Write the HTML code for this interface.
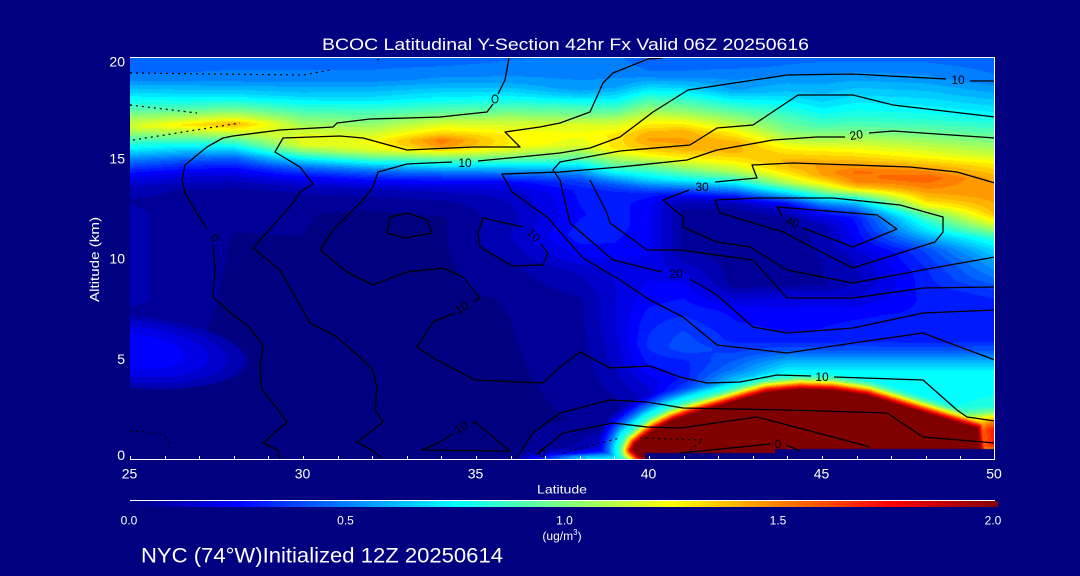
<!DOCTYPE html>
<html><head><meta charset="utf-8">
<style>
html,body{margin:0;padding:0;background:#000080;width:1080px;height:576px;overflow:hidden}
#c{position:absolute;left:130px;top:58px;width:865px;height:401px}
svg{position:absolute;left:0;top:0}
text{font-family:"Liberation Sans",sans-serif}
</style></head><body>
<canvas id="c" width="865" height="401"></canvas>
<svg width="1080" height="576" viewBox="0 0 1080 576">
<defs>
<linearGradient id="jet" x1="0" y1="0" x2="1" y2="0">
<stop offset="0" stop-color="#000080"/><stop offset="0.125" stop-color="#0000ff"/>
<stop offset="0.375" stop-color="#00ffff"/><stop offset="0.625" stop-color="#ffff00"/>
<stop offset="0.875" stop-color="#ff0000"/><stop offset="1" stop-color="#800000"/>
</linearGradient>
</defs>
<g fill="none" stroke="#000" stroke-width="1.3" stroke-linejoin="round">
<polyline points="509,58 505,80 498,94"/>
<ellipse cx="495" cy="99" rx="3" ry="4" stroke-width="1"/>
<polyline points="493,104 487,112 440,117 407,118 370,119 337,123 333,127 280,130 233,136 223,138 207,147 185,165 182,180 185,193 195,210 207,229"/>
<polyline points="213,245 215,270 213,297 233,315 247,325 263,345 260,367 262,390 273,403 287,422 263,443 278,450 280,459"/>
<polyline points="662,58 648,59 613,73 603,83 590,112 560,123 540,127 505,132 520,147 473,147 407,150 363,138 340,136 283,138 275,152 300,167 313,184 300,192 294,202 253,248 280,270 310,323 337,337 363,360 373,370 377,388 375,410 383,422 357,442 372,450 382,459"/>
<polyline points="995,81 970,81"/>
<polyline points="946,79 853,74 787,75 688,90 653,112 620,137 590,148 560,153 540,155 478,161"/>
<polyline points="452,162 407,164 378,172 373,187 363,200 353,210 333,230 320,250 347,272 373,285 407,272 443,268 463,277 480,298 474,301"/>
<polyline points="455,313 433,322 417,347 437,360 475,380 543,383 560,367 580,352 610,368 650,366 680,377 707,383 740,382 777,375 811,376"/>
<polyline points="834,377 923,380 957,410 967,417 995,421"/>
<polyline points="422,450 440,442 454,433"/>
<polyline points="472,423 475,422 510,451 422,450"/>
<polyline points="390,217 408,213 427,220 432,233 405,238 387,233 390,217"/>
<polyline points="523,227 483,218 478,233 480,247 512,266 543,265 548,253 541,244"/>
<polyline points="995,138 893,131 869,133"/>
<polyline points="845,137 817,137 773,140 717,150 687,160 620,167 560,172 502,174 512,192 547,217 583,258 620,280 650,300 683,317 717,345 787,353 853,343 923,333 960,347 995,360"/>
<polyline points="995,117 893,105 853,95 798,95 753,125 717,128 690,145 620,151 560,162 553,170 560,180 570,223 613,260 662,272"/>
<polyline points="690,279 717,295 753,327 787,333 853,328 923,313 995,310"/>
<polyline points="995,183 957,172 910,167 853,165 793,163 752,165 757,178 715,182"/>
<polyline points="689,190 663,200 683,217 683,227 717,242 750,247 787,270 853,283 933,268 995,257"/>
<polyline points="715,200 760,198 833,198 900,205 943,217 943,232 935,242 900,253 853,268 833,258 783,232 720,213 715,200"/>
<polyline points="782,216 777,207 877,215 897,229 853,247 803,228"/>
<polyline points="590,180 607,213 610,223 647,250 680,250 753,260 787,298 853,298 923,288 995,287"/>
<polyline points="515,459 520,453 533,433 560,413 610,400 647,402 683,408 787,410 887,413 923,437 995,443"/>
<polyline points="536,455 563,433 613,423 647,427 680,428 757,417 833,437 870,447"/>
<polyline points="680,453 771,444"/>
<polyline points="786,445 800,451"/>
</g>
<g fill="none" stroke="#000" stroke-width="1.2" stroke-dasharray="2,4">
<polyline points="130,73 303,75 330,70"/>
<polyline points="130,105 197,113"/>
<polyline points="133,140 240,123"/>
<polyline points="377,60 383,58"/>
<polyline points="130,431 147,432 163,435 170,443 167,452"/>
<polyline points="563,453 600,443 620,438"/>
<polyline points="640,438 703,440 690,450"/>
</g>
<g fill="#000" font-size="12">
<text x="958" y="84" text-anchor="middle">10</text>
<text x="465" y="167" text-anchor="middle">10</text>
<text x="0" y="0" text-anchor="middle" transform="translate(464,311) rotate(-35)">10</text>
<text x="822" y="381" text-anchor="middle">10</text>
<text x="0" y="0" text-anchor="middle" transform="translate(463,431) rotate(-30)">10</text>
<text x="0" y="0" text-anchor="middle" transform="translate(531,238) rotate(45)">10</text>
<text x="0" y="0" text-anchor="middle" transform="translate(857,139) rotate(-10)">20</text>
<text x="676" y="278" text-anchor="middle">20</text>
<text x="702" y="191" text-anchor="middle">30</text>
<text x="0" y="0" text-anchor="middle" transform="translate(791,226) rotate(20)">40</text>
<text x="0" y="0" text-anchor="middle" transform="translate(211,240) rotate(60)">0</text>
<text x="778" y="448" text-anchor="middle">0</text>
<text x="542" y="457" text-anchor="middle">0</text>
</g>
<g stroke="#fff" stroke-width="1" fill="none">
<line x1="130" y1="57.5" x2="995" y2="57.5"/>
<line x1="994.5" y1="57" x2="994.5" y2="460"/>
<line x1="130" y1="459.5" x2="995" y2="459.5"/>
<path d="M130.5 456V459M165.5 456V459M199.5 456V459M234.5 456V459M268.5 456V459M303.5 456V459M338.5 456V459M372.5 456V459M407.5 456V459M441.5 456V459M476.5 456V459M511.5 456V459M545.5 456V459M580.5 456V459M614.5 456V459M649.5 456V459M684.5 456V459M718.5 456V459M753.5 456V459M787.5 456V459M822.5 456V459M857.5 456V459M891.5 456V459M926.5 456V459M960.5 456V459M994.5 456V459"/>
<line x1="130" y1="500.5" x2="995" y2="500.5"/>
</g>
<rect x="130" y="501" width="868" height="6" fill="url(#jet)"/>
<g fill="#fff">
<text x="322" y="50" font-size="17" textLength="487" lengthAdjust="spacingAndGlyphs">BCOC Latitudinal Y-Section 42hr  Fx Valid 06Z 20250616</text>
<g font-size="14" text-anchor="end">
<text x="125" y="66.7">20</text>
<text x="125" y="163.3">15</text>
<text x="125" y="263.3">10</text>
<text x="125" y="364">5</text>
<text x="125" y="460">0</text>
</g>
<g font-size="14" text-anchor="middle">
<text x="129.5" y="478.7">25</text>
<text x="302.5" y="478.7">30</text>
<text x="475.5" y="478.7">35</text>
<text x="648.5" y="478.7">40</text>
<text x="821.5" y="478.7">45</text>
<text x="994" y="478.7">50</text>
</g>
<text x="537" y="493.3" font-size="12" textLength="50" lengthAdjust="spacingAndGlyphs">Latitude</text>
<text x="0" y="0" font-size="12.5" text-anchor="middle" textLength="85" lengthAdjust="spacingAndGlyphs" transform="translate(99,259.5) rotate(-90)">Altitude (km)</text>
<g font-size="12" text-anchor="middle">
<text x="129" y="524.3">0.0</text>
<text x="345.5" y="524.3">0.5</text>
<text x="564.5" y="524.3">1.0</text>
<text x="778" y="524.3">1.5</text>
<text x="993" y="524.3">2.0</text>
<text x="562" y="540">(ug/m<tspan font-size="8" dy="-5">3</tspan><tspan dy="5">)</tspan></text>
</g>
<text x="141" y="562.7" font-size="21" textLength="362" lengthAdjust="spacingAndGlyphs">NYC (74°W)Initialized 12Z 20250614</text>
</g>
</svg>
<script>
(function(){
var W=865,H=401,X0=130,Y0=58;
var cols=[
[130,[[58,.45],[78,.5],[95,.72],[108,.9],[120,1.1],[127,1.18],[138,.95],[150,.72],[160,.5],[172,.3],[185,.15],[200,.08],[215,.11],[300,.11],[320,.05],[459,.02]]],
[182,[[58,.45],[78,.5],[95,.7],[108,.9],[118,1.12],[125,1.3],[132,1.12],[142,.85],[152,.62],[162,.4],[175,.2],[190,.08],[210,.05],[300,.05],[459,.02]]],
[234,[[58,.45],[80,.52],[95,.7],[108,.95],[118,1.2],[124,1.42],[130,1.25],[138,1.0],[148,.72],[158,.45],[170,.25],[185,.1],[200,.04],[459,.02]]],
[303,[[58,.45],[80,.52],[95,.66],[108,.85],[118,1.0],[128,1.12],[137,1.22],[145,1.2],[152,1.0],[160,.7],[168,.45],[178,.25],[190,.1],[205,.04],[459,.02]]],
[372,[[58,.45],[80,.52],[100,.72],[112,.9],[122,1.02],[132,1.15],[142,1.25],[150,1.2],[157,.98],[163,.75],[170,.5],[178,.32],[188,.15],[200,.06],[215,.03],[459,.02]]],
[442,[[58,.45],[80,.55],[98,.75],[112,.95],[122,1.15],[132,1.32],[140,1.52],[146,1.48],[152,1.25],[158,1.0],[165,.75],[172,.5],[180,.3],[190,.15],[205,.06],[220,.03],[459,.02]]],
[511,[[58,.48],[80,.55],[95,.72],[110,.95],[122,1.15],[135,1.28],[145,1.28],[152,1.15],[160,.92],[167,.68],[175,.45],[183,.25],[195,.15],[215,.12],[240,.14],[265,.08],[300,.04],[459,.02]]],
[580,[[58,.5],[88,.55],[95,.65],[100,.75],[108,.9],[115,1.0],[125,1.2],[135,1.25],[145,1.2],[150,1.1],[158,.95],[165,.75],[172,.55],[180,.4],[190,.3],[215,.28],[235,.32],[255,.25],[270,.15],[300,.08],[420,.04],[448,.1],[453,.25],[456,.55],[459,.7]]],
[614,[[58,.5],[85,.55],[100,.75],[112,.95],[122,1.15],[135,1.3],[148,1.3],[158,1.1],[165,.95],[172,.78],[178,.6],[185,.42],[193,.32],[225,.32],[247,.28],[270,.2],[290,.18],[330,.18],[360,.15],[400,.08],[430,.08],[445,.2],[451,.35],[455,.6],[459,.75]]],
[649,[[58,.45],[75,.5],[88,.7],[100,.9],[112,1.1],[122,1.25],[132,1.4],[140,1.45],[148,1.38],[156,1.25],[163,1.05],[172,.85],[180,.68],[188,.45],[195,.3],[205,.25],[245,.25],[270,.22],[300,.27],[320,.32],[345,.35],[363,.3],[383,.2],[410,.12],[459,.12]]],
[683,[[58,.45],[75,.5],[88,.68],[100,.88],[112,1.05],[122,1.25],[132,1.42],[142,1.45],[150,1.4],[158,1.28],[165,1.12],[172,.95],[180,.75],[186,.55],[192,.35],[200,.15],[210,.08],[250,.08],[265,.15],[285,.25],[310,.32],[335,.4],[348,.42],[362,.32],[380,.3],[395,.45],[459,.5]]],
[735,[[58,.45],[67,.48],[90,.58],[100,.75],[112,.95],[123,1.12],[133,1.28],[143,1.42],[152,1.4],[162,1.28],[172,1.1],[180,.85],[186,.65],[192,.45],[198,.25],[205,.1],[215,.06],[285,.06],[295,.15],[310,.27],[340,.32],[355,.4],[370,.5],[380,.65],[390,.78],[459,.8]]],
[787,[[58,.47],[70,.5],[93,.65],[105,.78],[117,.9],[130,1.0],[140,1.15],[150,1.3],[160,1.4],[168,1.38],[176,1.25],[183,1.1],[188,.9],[193,.7],[198,.5],[203,.3],[210,.15],[218,.07],[285,.07],[295,.18],[310,.25],[340,.3],[352,.45],[362,.62],[372,.76],[459,.8]]],
[822,[[58,.47],[77,.55],[97,.65],[110,.75],[125,.9],[140,1.1],[152,1.3],[165,1.45],[175,1.45],[182,1.3],[188,1.12],[193,.95],[198,.75],[203,.55],[210,.35],[218,.2],[228,.1],[285,.08],[298,.2],[312,.27],[340,.3],[352,.45],[362,.62],[372,.76],[459,.8]]],
[856,[[58,.47],[75,.55],[100,.72],[115,.82],[128,.95],[140,1.12],[152,1.28],[163,1.42],[172,1.55],[182,1.5],[188,1.35],[193,1.1],[198,.85],[203,.65],[210,.45],[218,.3],[240,.25],[255,.15],[280,.12],[300,.2],[315,.28],[340,.32],[352,.45],[362,.62],[372,.76],[459,.8]]],
[926,[[58,.47],[78,.55],[100,.7],[118,.82],[132,.97],[145,1.12],[158,1.28],[168,1.45],[178,1.58],[190,1.48],[200,1.35],[207,1.2],[213,1.0],[220,.85],[230,.72],[240,.55],[250,.4],[270,.33],[300,.3],[340,.3],[352,.45],[362,.62],[372,.76],[459,.8]]],
[995,[[58,.45],[80,.5],[95,.6],[110,.72],[125,.85],[140,1.0],[155,1.15],[165,1.3],[178,1.42],[195,1.47],[213,1.4],[222,1.25],[230,1.05],[238,.85],[248,.72],[260,.6],[280,.48],[292,.36],[310,.3],[340,.32],[352,.45],[362,.62],[372,.76],[405,.8],[412,1.0],[418,1.35],[424,1.6],[430,1.75],[446,1.72],[450,1.5],[459,1.5]]]
];
function interp(k,y){
  if(y<=k[0][0])return k[0][1];
  for(var i=1;i<k.length;i++){if(y<=k[i][0]){var a=k[i-1],b=k[i];return a[1]+(b[1]-a[1])*(y-a[0])/(b[0]-a[0]);}}
  return k[k.length-1][1];
}
var cx=[],cv=[];
for(var c=0;c<cols.length;c++){cx.push(cols[c][0]);var arr=new Float32Array(H);for(var j=0;j<H;j++)arr[j]=interp(cols[c][1],Y0+j+0.5);cv.push(arr);}
var poly=[[632,450],[635,444],[645,436],[655,429],[673,420],[690,414],[707,409],[725,404],[745,398],[767,392],[800,389],[833,390],[867,395],[900,405],[933,415],[960,423],[978,428],[980,449],[800,449],[790,447],[770,453],[700,455],[650,457],[640,457]];
var rim=[[0,2.0],[1.5,1.85],[3,1.72],[5,1.5],[7.5,1.25],[10,1.0],[13,.85],[17,.75],[23,.5],[31,.25],[40,0]];
function inside(px,py){var r=false;for(var i=0,j=poly.length-1;i<poly.length;j=i++){var xi=poly[i][0],yi=poly[i][1],xj=poly[j][0],yj=poly[j][1];if(((yi>py)!=(yj>py))&&(px<(xj-xi)*(py-yi)/(yj-yi)+xi))r=!r;}return r;}
function dist(px,py){var m=1e9;for(var i=0,j=poly.length-1;i<poly.length;j=i++){var ax=poly[j][0],ay=poly[j][1],bx=poly[i][0],by=poly[i][1];var dx=bx-ax,dy=by-ay;var t=((px-ax)*dx+(py-ay)*dy)/(dx*dx+dy*dy);t=t<0?0:t>1?1:t;var ex=ax+t*dx-px,ey=ay+t*dy-py;var d=Math.sqrt(ex*ex+ey*ey);if(d<m)m=d;}return m;}
function rimV(d){if(d<=0)return 2;for(var i=1;i<rim.length;i++){if(d<=rim[i][0]){var a=rim[i-1],b=rim[i];return a[1]+(b[1]-a[1])*(d-a[0])/(b[0]-a[0]);}}return 0;}
function cl(x){return x<0?0:x>1?1:x;}
var cv2=document.getElementById('c');var ctx=cv2.getContext('2d');
var img=ctx.createImageData(W,H);var D=img.data;
for(var j=0;j<H;j++){
  var y=Y0+j+0.5;
  for(var i=0;i<W;i++){
    var x=X0+i+0.5;
    var k=0;while(k<cx.length-2&&x>cx[k+1])k++;
    var t=(x-cx[k])/(cx[k+1]-cx[k]);t=t<0?0:t>1?1:t;
    var v=cv[k][j]*(1-t)+cv[k+1][j]*t;
    var sy=y-352-(x-130)*0.08;
    var bx=(x-130)/118,by=sy/36;var db2=bx*bx+by*by;
    if(db2<1)v+=0.24*(1-0.8*db2);
    if(x>585&&y>345){
      var d=inside(x,y)?0:dist(x,y);
      if(d<40){var rv=rimV(d);if(rv>v)v=rv;}
    }
    if((x>=775&&y>=449.5)||(x>=645&&y>=453.5))v=0;
    v=Math.floor(v*20+0.25)/20;
    var tt=cl(v/2);
    var r=cl(1.5-Math.abs(4*tt-3)),g=cl(1.5-Math.abs(4*tt-2)),b=cl(1.5-Math.abs(4*tt-1));
    var o=(j*W+i)*4;D[o]=Math.round(r*255);D[o+1]=Math.round(g*255);D[o+2]=Math.round(b*255);D[o+3]=255;
  }
}
ctx.putImageData(img,0,0);
})();
</script>
</body></html>
